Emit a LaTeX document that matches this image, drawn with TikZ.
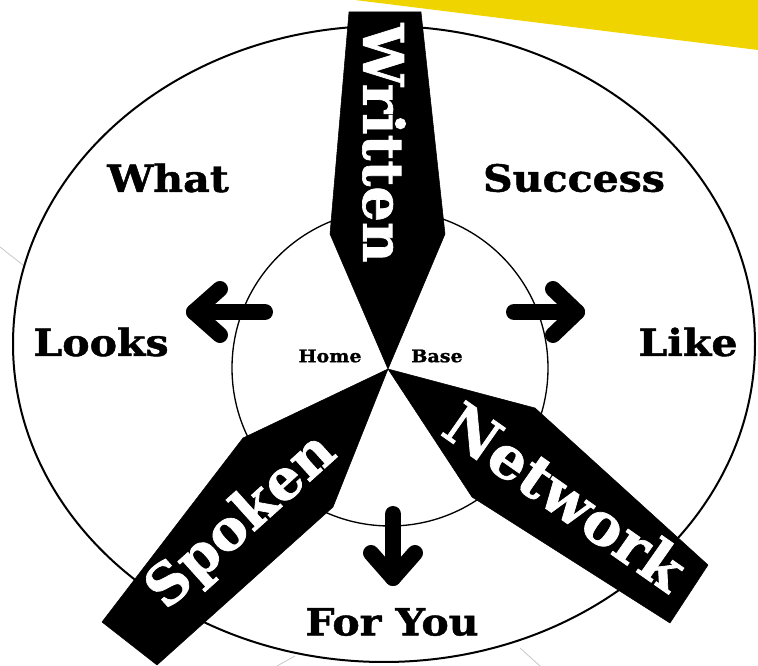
\documentclass[tikz,border=0pt]{standalone}
\usepackage{fontspec}
\setmainfont{DejaVu Serif}[BoldFeatures={FakeBold=1.2}]
\definecolor{gold}{RGB}{240,212,0}
\definecolor{faint}{RGB}{200,200,200}
\tikzset{
  lbl/.style={font=\bfseries\fontsize{28}{30}\selectfont, inner sep=0pt, xscale=1.1},
  small/.style={font=\bfseries\fontsize{13}{15}\selectfont, inner sep=0pt, xscale=1.1},
  band/.style={fill=black, draw=black, line join=round},
  bandtxt/.style={font=\bfseries\fontsize{42}{44}\selectfont, text=white, inner sep=0pt},
  fat/.style={line width=12pt, line cap=round, line join=round},
}
\begin{document}
\begin{tikzpicture}[x=0.75pt,y=-0.75pt]
\useasboundingbox (0,0) rectangle (758,666);
% yellow corner
\fill[gold] (355,0) -- (758,0) -- (758,50) -- cycle;
% faint lines
\draw[faint, line width=0.6pt] (0,247) -- (23,265);
\draw[faint, line width=0.6pt] (277,666) -- (295,656);
\draw[faint, line width=0.6pt] (520,648) -- (540,666);
% circles
\draw[line width=1.5pt] (384,344) ellipse [x radius=371, y radius=318];
\draw[line width=1pt] (390,368) circle [radius=158];
% hub
\coordinate (hub) at (388,369);
% Written
\fill[band] (hub) -- (330,234) -- (349,12) -- (421,12) -- (445,234) -- cycle;
% Network
\fill[band] (hub) -- (535,408) -- (708,565) -- (670,623) -- (472,497) -- cycle;
% Spoken
\fill[band] (hub) -- (243,438) -- (102,622) -- (157,665) -- (333,507) -- cycle;
% band texts
\node[bandtxt, rotate=-90] (written) at (384,143) {Written};
\node[bandtxt, font=\bfseries\fontsize{44}{46}\selectfont, rotate=-35] (network) at (566,496) {Network};
\node[bandtxt, rotate=42] (spoken) at (242,522) {Spoken};
% arrows
\coordinate (la) at (265,312); \coordinate (lt) at (194,312);
\coordinate (lu) at (220,289); \coordinate (ld) at (220,335);
\draw[fat] (la) -- (lt); \draw[fat] (lu) -- (lt) -- (ld);
\coordinate (ra) at (514,312); \coordinate (rt) at (577,312);
\coordinate (ru) at (553,289); \coordinate (rd) at (553,335);
\draw[fat] (ra) -- (rt); \draw[fat] (ru) -- (rt) -- (rd);
\coordinate (da) at (393,514); \coordinate (dt) at (393,578);
\coordinate (dl) at (371,553); \coordinate (dr) at (415,553);
\draw[fat] (da) -- (dt); \draw[fat] (dl) -- (dt) -- (dr);
% labels
\node[lbl] (what) at (168,178) {What};
\node[lbl] (success) at (574,178) {Success};
\node[lbl] (looks) at (101,342) {Looks};
\node[lbl] (like) at (688,342) {Like};
\node[lbl] (foryou) at (392,622) {For You};
\node[small] (home) at (330,356) {Home};
\node[small] (base) at (437,356) {Base};
\end{tikzpicture}
\end{document}
